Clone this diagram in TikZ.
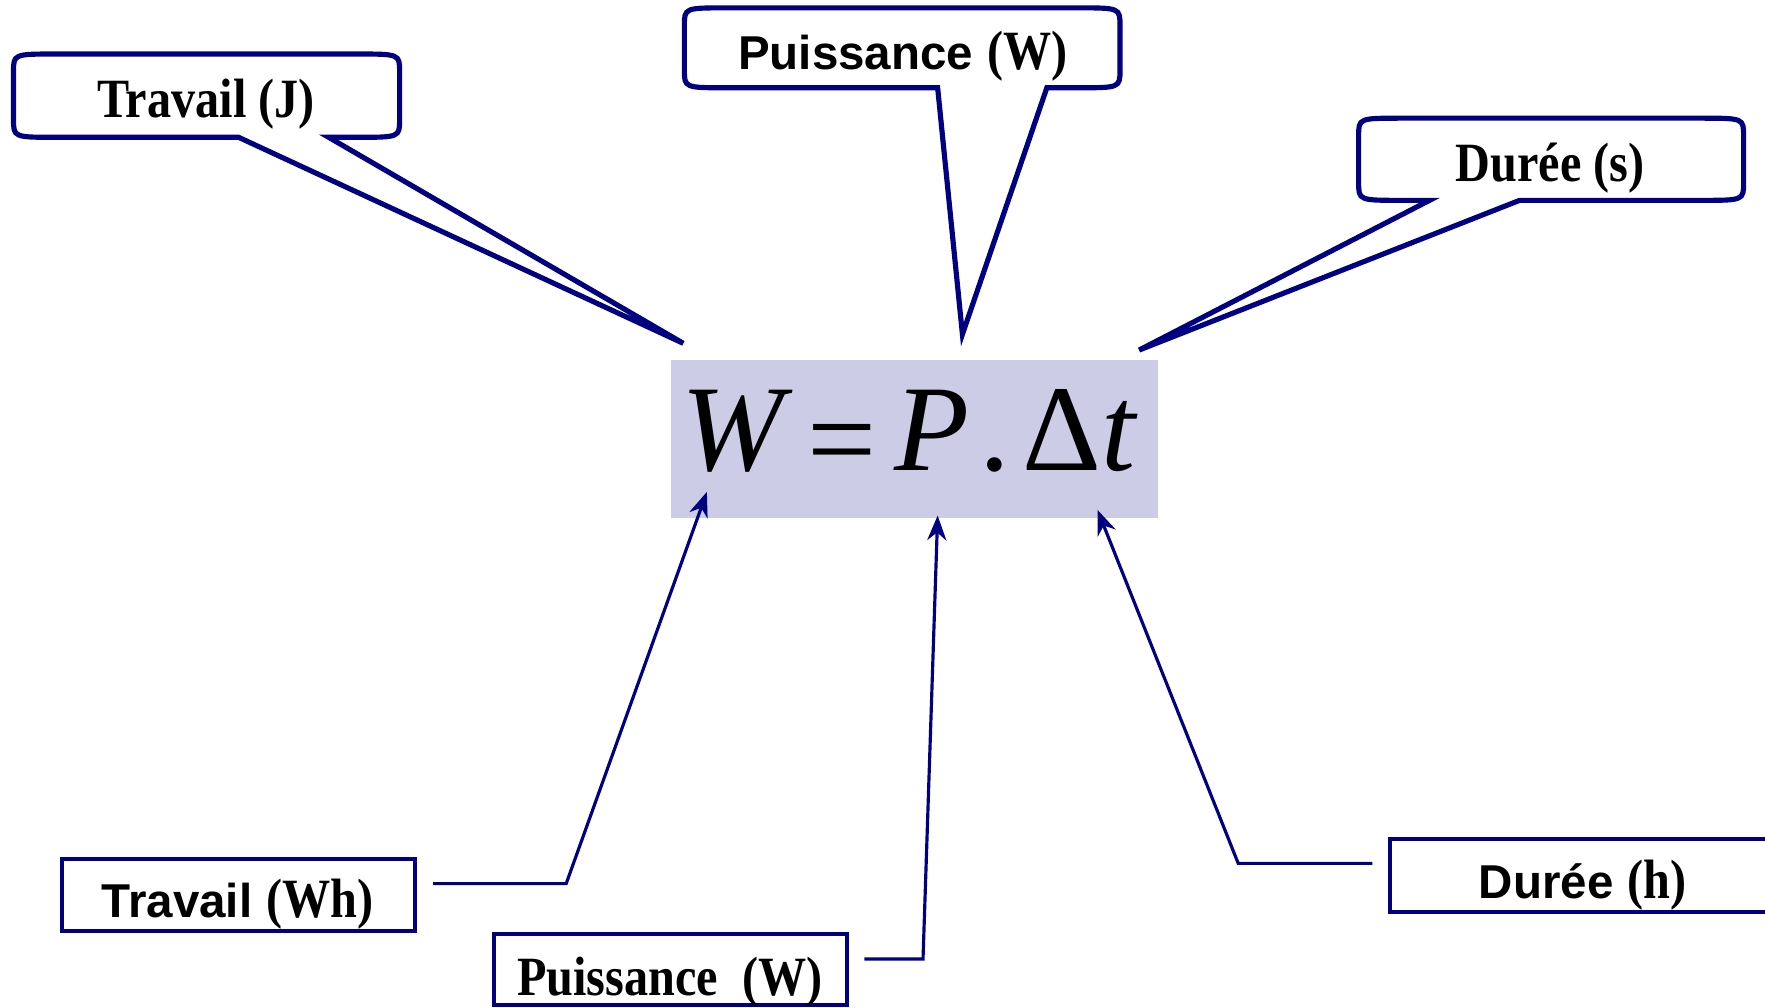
\documentclass[tikz,border=0pt]{standalone}
\usepackage{fontspec}
\usepackage{graphicx}
\setmainfont{Liberation Serif}
\newfontfamily\arialfont{Liberation Sans}
\usetikzlibrary{arrows.meta}
\definecolor{navy}{RGB}{0,0,128}
\definecolor{lavender}{RGB}{204,204,230}
\newcommand{\serb}[1]{\scalebox{0.87}[1]{\bfseries #1}}
\newcommand{\sanb}[1]{{\arialfont\fontsize{12}{12}\selectfont\bfseries #1}}

\begin{document}
\begin{tikzpicture}[x=0.01cm,y=-0.01cm,
  bubble/.style={draw=navy,line width=1.3pt,fill=white,line join=miter},
  unitbox/.style={draw=navy,line width=1pt,inner sep=0pt,minimum height=0.64cm},
  txt/.style={anchor=base,inner sep=0pt,font=\fontsize{14}{14}\selectfont},
  eqpart/.style={anchor=base,inner sep=0pt,font=\fontsize{31}{31}\selectfont},
  pointer/.style={draw=navy,line width=0.8pt,shorten <=0.14cm,-{Stealth[length=0.22cm,width=0.17cm,inset=0.07cm]}}]

\useasboundingbox (0,0) rectangle (1568,895);

\node[fill=lavender,minimum width=4.33cm,minimum height=1.40cm,inner sep=0pt] (formula) at (812.5,390) {};
\node[eqpart] (eqW) at (651,418) {\itshape W};
\node[eqpart] (eqEq) at (748,427) {=};
\node[eqpart] (eqP) at (828,418) {\itshape P};
\node[eqpart] (eqDot) at (884,418) {.};
\node[eqpart] (eqDt) at (960,418) {Δ\textit{t}};

\coordinate (tipJ) at (607,305);
\coordinate (tipPt) at (855,297);
\coordinate (tipS) at (1012,311);

\draw[bubble] (212,122) -- (50,122) .. controls (12,122) .. (12,106) -- (12,64) .. controls (12,48) .. (50,48) -- (317,48) .. controls (355,48) .. (355,64) -- (355,106) .. controls (355,122) .. (317,122) -- (292,122) -- (tipJ) -- cycle;
\draw[bubble] (833,78) -- (646,78) .. controls (608,78) .. (608,62) -- (608,23) .. controls (608,7) .. (646,7) -- (957,7) .. controls (995,7) .. (995,23) -- (995,62) .. controls (995,78) .. (957,78) -- (930,78) -- (tipPt) -- cycle;
\draw[bubble] (1270,178) -- (1245,178) .. controls (1207,178) .. (1207,162) -- (1207,121) .. controls (1207,105) .. (1245,105) -- (1511,105) .. controls (1549,105) .. (1549,121) -- (1549,162) .. controls (1549,178) .. (1511,178) -- (1350,178) -- (tipS) -- cycle;

\node[txt] (txtJ) at (183,104) {\serb{Travail (J)}};
\node[txt] (txtPt) at (802,62) {\sanb{Puissance} \serb{(W)}};
\node[txt] (txtS) at (1377,161) {\serb{Durée (s)}};

\node[unitbox,minimum width=3.14cm] (boxWh) at (212,795) {};
\node[unitbox,minimum width=3.13cm,minimum height=0.63cm] (boxPb) at (595.5,861.5) {};
\node[unitbox,minimum width=3.42cm,minimum height=0.65cm] (boxH) at (1406,777.5) {};

\node[txt] (txtWh) at (211,815) {\sanb{Travail} \serb{(Wh)}};
\node[txt] (txtPb) at (595,884) {\serb{Puissance~~(W)}};
\node[txt] (txtH) at (1406,798) {\sanb{Durée} \serb{(h)}};

\coordinate (tipW) at (628,437);
\coordinate (tipP) at (833,458);
\coordinate (tipT) at (975,453);
\coordinate (kWh) at (503,785);
\coordinate (kPb) at (820,852);
\coordinate (kH) at (1100,767);

\draw[pointer] (boxWh.east |- kWh) -- (kWh) -- (tipW);
\draw[pointer] (boxPb.east |- kPb) -- (kPb) -- (tipP);
\draw[pointer] (boxH.west |- kH) -- (kH) -- (tipT);
\end{tikzpicture}
\end{document}
